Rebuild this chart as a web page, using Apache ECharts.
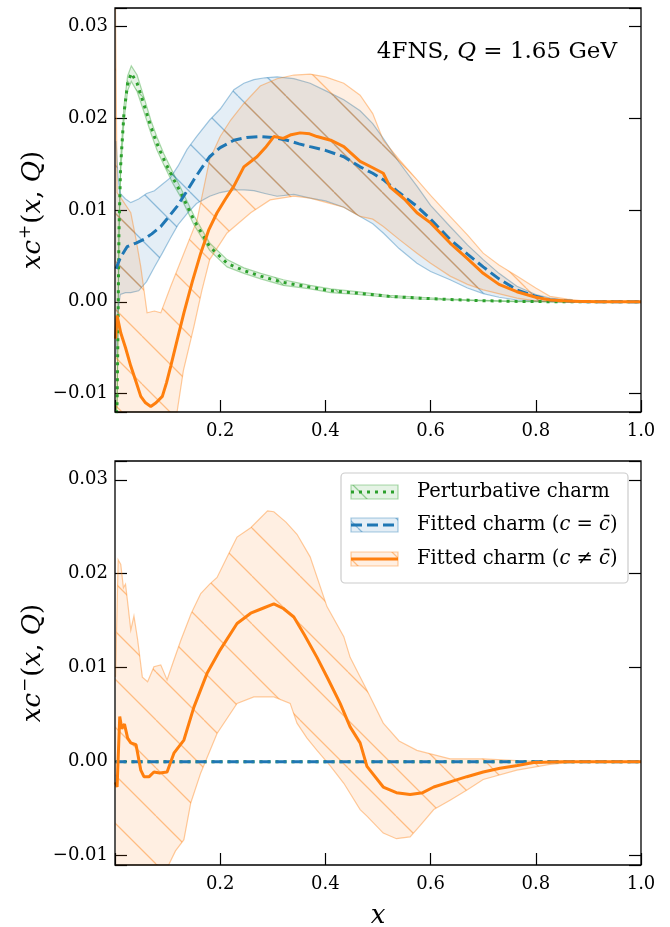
<!DOCTYPE html>
<html>
<head>
<meta charset="utf-8">
<script src="https://cdn.jsdelivr.net/npm/echarts@6/dist/echarts.min.js"></script>
<style>html,body{margin:0;padding:0;background:#fff;}#c{width:670px;height:927px;}</style>
</head>
<body>
<div id="c"></div>
<script>
// ---------------- DATA ----------------
// Tick labels
const xTicks = [0.2, 0.4, 0.6, 0.8, 1.0];
const yTicks = [-0.01, 0.00, 0.01, 0.02, 0.03];

// ===== Top panel: x c+(x,Q) =====
// Perturbative charm (green)
const pertX  = [0.002, 0.004, 0.0056, 0.0075, 0.0106, 0.017, 0.024, 0.031, 0.042, 0.055, 0.068, 0.08, 0.093, 0.11, 0.125, 0.15, 0.18, 0.213, 0.245, 0.277, 0.32, 0.371, 0.41, 0.46, 0.52, 0.58, 0.637, 0.7, 0.76, 0.85, 1.0];
const pertY  = [-0.013, -0.011, -0.0034, 0.0075, 0.0147, 0.0205, 0.0238, 0.0249, 0.0238, 0.0215, 0.0191, 0.0172, 0.0155, 0.0135, 0.0119, 0.0089, 0.006, 0.0042, 0.0034, 0.0028, 0.0021, 0.0016, 0.0012, 0.00095, 0.0006, 0.0004, 0.00025, 0.00012, 0.00005, 0.0, 0.0];
const pertHi = [-0.0125, -0.0105, -0.0028, 0.0082, 0.0155, 0.0213, 0.0246, 0.0257, 0.0247, 0.0223, 0.0198, 0.0179, 0.0161, 0.0141, 0.0124, 0.0094, 0.0064, 0.0046, 0.0037, 0.0031, 0.0024, 0.0018, 0.0014, 0.0011, 0.0007, 0.0005, 0.0003, 0.00015, 0.00007, 0.0, 0.0];
const pertLo = [-0.0135, -0.0115, -0.004, 0.0068, 0.0139, 0.0197, 0.0230, 0.0240, 0.0229, 0.0207, 0.0184, 0.0165, 0.0149, 0.0129, 0.0114, 0.0084, 0.0056, 0.0038, 0.0031, 0.0025, 0.0018, 0.0014, 0.0010, 0.0008, 0.0005, 0.0003, 0.0002, 0.0001, 0.00003, 0.0, 0.0];

// Fitted charm c = cbar (blue)
const symX = [0.002, 0.01, 0.023, 0.04, 0.055, 0.07, 0.087, 0.1, 0.118, 0.135, 0.15, 0.165, 0.18, 0.2, 0.226, 0.25, 0.276, 0.3, 0.327, 0.35, 0.371, 0.4, 0.435, 0.466, 0.49, 0.51, 0.54, 0.574, 0.6, 0.637, 0.67, 0.70, 0.73, 0.764, 0.8, 0.827, 0.87, 0.92, 1.0];
const symY = [0.0036, 0.0048, 0.006, 0.0064, 0.0068, 0.0074, 0.0082, 0.0091, 0.0104, 0.0119, 0.0133, 0.0146, 0.0158, 0.0168, 0.0176, 0.0179, 0.018, 0.0179, 0.0176, 0.0172, 0.0169, 0.0165, 0.0158, 0.0147, 0.0140, 0.0133, 0.0119, 0.0104, 0.0090, 0.0068, 0.0052, 0.0038, 0.0025, 0.0013, 0.0006, 0.0002, 0.00005, 0.0, 0.0];
const symBandX = [0.002, 0.006, 0.01, 0.02, 0.03, 0.045, 0.06, 0.075, 0.09, 0.105, 0.12, 0.137, 0.155, 0.18, 0.2, 0.226, 0.245, 0.264, 0.285, 0.308, 0.34, 0.371, 0.4, 0.435, 0.466, 0.49, 0.51, 0.54, 0.574, 0.6, 0.637, 0.67, 0.70, 0.73, 0.764, 0.8, 0.827, 0.87, 0.92, 1.0];
const symHi = [0.0175, 0.0135, 0.0118, 0.0112, 0.0108, 0.0112, 0.0118, 0.0121, 0.0128, 0.0135, 0.0148, 0.0166, 0.0180, 0.0198, 0.0210, 0.0231, 0.0238, 0.0242, 0.0244, 0.0245, 0.0243, 0.0238, 0.0230, 0.0220, 0.0208, 0.0194, 0.0178, 0.0152, 0.0126, 0.0105, 0.0082, 0.0062, 0.0046, 0.0031, 0.0017, 0.0008, 0.0004, 0.0001, 0.0, 0.0];
const symLo = [-0.006, -0.001, 0.0008, 0.001, 0.001, 0.0012, 0.0022, 0.0038, 0.0053, 0.0069, 0.0084, 0.0096, 0.0107, 0.0115, 0.0119, 0.0122, 0.0122, 0.0121, 0.0118, 0.0115, 0.0117, 0.0113, 0.0110, 0.0103, 0.0093, 0.0085, 0.0075, 0.0058, 0.0042, 0.0033, 0.0024, 0.0015, 0.0009, 0.0005, 0.0002, 0.0001, 0.00003, 0.0, 0.0, 0.0];

// Fitted charm c != cbar (orange), c+
const asyPlusX = [0.001, 0.004, 0.011, 0.02, 0.03, 0.04, 0.049, 0.058, 0.068, 0.078, 0.09, 0.098, 0.106, 0.118, 0.131, 0.147, 0.163, 0.178, 0.194, 0.21, 0.226, 0.245, 0.27, 0.286, 0.302, 0.32, 0.335, 0.352, 0.37, 0.384, 0.41, 0.435, 0.466, 0.49, 0.51, 0.523, 0.55, 0.574, 0.6, 0.637, 0.67, 0.70, 0.73, 0.764, 0.8, 0.827, 0.87, 0.92, 1.0];
const asyPlusY = [-0.004, -0.0015, -0.0034, -0.005, -0.007, -0.0087, -0.0103, -0.0110, -0.0114, -0.0110, -0.0103, -0.0088, -0.0070, -0.0042, -0.0012, 0.0022, 0.0053, 0.0078, 0.0097, 0.0112, 0.0126, 0.0147, 0.0158, 0.0168, 0.0180, 0.0178, 0.0182, 0.0184, 0.0183, 0.0180, 0.0176, 0.0169, 0.0153, 0.0146, 0.0140, 0.0125, 0.0112, 0.0097, 0.0086, 0.0064, 0.0047, 0.0031, 0.0019, 0.0011, 0.0005, 0.0002, 0.00005, 0.0, 0.0];
const asyPlusHiX = [0.001, 0.004, 0.015, 0.03, 0.04, 0.049, 0.061, 0.075, 0.087, 0.106, 0.131, 0.156, 0.18, 0.2, 0.22, 0.245, 0.276, 0.308, 0.34, 0.371, 0.4, 0.435, 0.466, 0.49, 0.51, 0.54, 0.574, 0.6, 0.637, 0.67, 0.70, 0.73, 0.764, 0.8, 0.827, 0.86, 0.89, 0.95, 1.0];
const asyPlusHi = [0.035, 0.0119, 0.011, 0.0097, 0.0068, 0.0038, -0.0012, -0.0010, -0.0012, 0.0017, 0.0053, 0.0089, 0.0155, 0.018, 0.0198, 0.0216, 0.0235, 0.0243, 0.0247, 0.0248, 0.0245, 0.0238, 0.0225, 0.0205, 0.0176, 0.0155, 0.0133, 0.0116, 0.0093, 0.0073, 0.0053, 0.0040, 0.0028, 0.0015, 0.0006, 0.0003, 0.0001, 0.0, 0.0];
const asyPlusLoX = [0.001, 0.05, 0.1, 0.118, 0.13, 0.15, 0.165, 0.18, 0.213, 0.258, 0.295, 0.34, 0.371, 0.403, 0.435, 0.466, 0.49, 0.51, 0.54, 0.574, 0.6, 0.637, 0.67, 0.70, 0.764, 0.8, 0.85, 1.0];
const asyPlusLo = [-0.03, -0.025, -0.018, -0.013, -0.0075, -0.0027, 0.0012, 0.0046, 0.0075, 0.0097, 0.0111, 0.0115, 0.0113, 0.0108, 0.0103, 0.0093, 0.0090, 0.0082, 0.0068, 0.0053, 0.0042, 0.0028, 0.0019, 0.0013, 0.0004, 0.0001, 0.0, 0.0];

// ===== Bottom panel: x c-(x,Q) =====
const zeroX = [0.001, 0.25, 0.5, 0.75, 1.0];
const pertMinusY = [0, 0, 0, 0, 0];
const symMinusY = [0, 0, 0, 0, 0];
const asyMinusX = [0.001, 0.004, 0.009, 0.013, 0.018, 0.024, 0.03, 0.04, 0.049, 0.055, 0.065, 0.074, 0.085, 0.099, 0.112, 0.131, 0.15, 0.175, 0.2, 0.232, 0.258, 0.28, 0.302, 0.32, 0.34, 0.36, 0.384, 0.405, 0.428, 0.447, 0.466, 0.479, 0.51, 0.535, 0.561, 0.585, 0.606, 0.64, 0.669, 0.7, 0.732, 0.765, 0.796, 0.85, 1.0];
const asyMinusY = [-0.0022, -0.0027, 0.0048, 0.0035, 0.004, 0.0025, 0.002, 0.0018, -0.0009, -0.0016, -0.0016, -0.0011, -0.0012, -0.0011, 0.0009, 0.0023, 0.0058, 0.0094, 0.0119, 0.0147, 0.0158, 0.0163, 0.0168, 0.0163, 0.0154, 0.0135, 0.0111, 0.0088, 0.0062, 0.0037, 0.002, -0.0005, -0.0027, -0.0033, -0.0035, -0.0033, -0.0027, -0.0021, -0.0016, -0.0011, -0.0007, -0.0004, -0.0001, 0.0, 0.0];
const asyMinusHiX = [0.001, 0.006, 0.011, 0.016, 0.02, 0.025, 0.03, 0.036, 0.043, 0.052, 0.062, 0.074, 0.087, 0.099, 0.11, 0.125, 0.145, 0.163, 0.18, 0.194, 0.215, 0.232, 0.258, 0.29, 0.302, 0.325, 0.346, 0.371, 0.403, 0.435, 0.447, 0.479, 0.51, 0.54, 0.574, 0.637, 0.70, 0.764, 0.82, 1.0];
const asyMinusHi = [0.009, 0.0215, 0.021, 0.0185, 0.0189, 0.0165, 0.014, 0.0155, 0.013, 0.009, 0.0085, 0.0101, 0.0103, 0.0087, 0.0105, 0.0129, 0.0158, 0.0179, 0.0189, 0.0196, 0.022, 0.0239, 0.0249, 0.0267, 0.0266, 0.0255, 0.0242, 0.0218, 0.0165, 0.0133, 0.0111, 0.0076, 0.0041, 0.0022, 0.0012, 0.0003, 0.0003, 0.0001, 0.0, 0.0];
const asyMinusLoX = [0.001, 0.09, 0.102, 0.115, 0.131, 0.144, 0.163, 0.194, 0.232, 0.264, 0.302, 0.333, 0.346, 0.365, 0.384, 0.41, 0.435, 0.466, 0.479, 0.51, 0.535, 0.561, 0.58, 0.606, 0.637, 0.67, 0.70, 0.764, 0.827, 0.88, 1.0];
const asyMinusLo = [-0.015, -0.013, -0.011, -0.0095, -0.0083, -0.0044, -0.0012, 0.003, 0.0062, 0.0069, 0.0069, 0.0062, 0.0041, 0.0025, 0.0012, -0.0005, -0.0023, -0.0051, -0.0058, -0.0076, -0.0082, -0.008, -0.0068, -0.0051, -0.0041, -0.003, -0.0019, -0.0009, -0.0003, 0.0, 0.0];

// Labels
const legendLabels = ['Perturbative charm', 'Fitted charm (c = c̄)', 'Fitted charm (c ≠ c̄)'];

// ---------------- STYLE / LAYOUT ----------------
const FONT = 'DejaVu Serif';
const GREEN = '44,160,44', BLUE = '31,119,180', ORANGE = '255,127,14';
const G = [{left:115, top:8, width:526, height:404}, {left:115, top:461, width:526, height:404}];
const YR = [[-0.012, 0.032], [-0.011, 0.032]];

function hatch(rgb) {
  const s = 48, c = document.createElement('canvas');
  c.width = s; c.height = s;
  const ctx = c.getContext('2d');
  ctx.strokeStyle = 'rgba(' + rgb + ',0.45)';
  ctx.lineWidth = 1.3;
  ctx.beginPath();
  for (const o of [-s, 0, s]) { ctx.moveTo(o, 0); ctx.lineTo(o + s, s); }
  ctx.stroke();
  return c;
}
const HATCH = {}; [GREEN, BLUE, ORANGE].forEach(k => HATCH[k] = hatch(k));
const zip = (xs, ys) => xs.map((x, i) => [x, ys[i]]);

function band(gi, hx, hy, lx, ly, rgb, phase, z) {
  const nUp = hx.length;
  const data = zip(hx, hy).concat(zip(lx, ly).reverse());
  return {
    type: 'custom', xAxisIndex: gi, yAxisIndex: gi * 2, coordinateSystem: 'cartesian2d',
    data, silent: true, animation: false, z, encode: {x: 0, y: 1},
    renderItem(params, api) {
      if (params.dataIndexInside !== 0) return null;
      const n = params.dataInsideLength, pts = [];
      for (let j = 0; j < n; j++) pts.push(api.coord([api.value(0, j), api.value(1, j)]));
      const cs = params.coordSys;
      const poly = echarts.graphic.clipPointsByRect(pts, {x: cs.x, y: cs.y, width: cs.width, height: cs.height});
      const up = poly.slice(0, nUp), lo = poly.slice(nUp);
      const edge = {stroke: 'rgba(' + rgb + ',0.4)', fill: null, lineWidth: 1.2};
      return {type: 'group', children: [
        {type: 'polygon', shape: {points: poly}, style: {fill: 'rgba(' + rgb + ',0.12)'}},
        {type: 'polygon', shape: {points: poly}, style: {fill: {image: HATCH[rgb], repeat: 'repeat', x: phase, y: 0}}},
        {type: 'polyline', shape: {points: up}, style: edge},
        {type: 'polyline', shape: {points: lo}, style: edge}
      ]};
    }
  };
}
function line(gi, xs, ys, rgb, dash, z) {
  return {type: 'line', xAxisIndex: gi, yAxisIndex: gi * 2, data: zip(xs, ys), showSymbol: false,
    symbol: 'none', silent: true, animation: false, z, clip: true,
    lineStyle: {color: 'rgb(' + rgb + ')', width: 3, type: dash, cap: 'butt'}};
}

const yFmt = v => { const r = Math.round(v * 100); if (Math.abs(v * 100 - r) > 1e-6) return ''; if (!yTicks.some(t => Math.abs(t - r / 100) < 1e-9)) return ''; return (r < 0 ? '−' : '') + (Math.abs(r) / 100).toFixed(2); };
const xFmt = v => xTicks.some(t => Math.abs(t - v) < 1e-9) ? v.toFixed(1) : '';
const tick = {inside: true, length: 12, lineStyle: {color: '#000', width: 1.2}};
const lab = {fontFamily: FONT, fontSize: 18, color: '#000'};

const xAxis = [0, 1].map(gi => ({gridIndex: gi, type: 'value', min: 0, max: 1, interval: 0.2, position: 'bottom',
  axisLine: {show: false, onZero: false}, axisTick: tick, splitLine: {show: false},
  axisLabel: Object.assign({margin: 10, formatter: xFmt}, lab)}));
const yAxis = [];
[0, 1].forEach(gi => {
  yAxis.push({gridIndex: gi, type: 'value', min: YR[gi][0], max: YR[gi][1], splitNumber: 4, position: 'left',
    axisLine: {show: false, onZero: false}, axisTick: tick, splitLine: {show: false},
    axisLabel: Object.assign({margin: 7, formatter: yFmt}, lab)});
  yAxis.push({gridIndex: gi, type: 'value', min: YR[gi][0], max: YR[gi][1], splitNumber: 4, position: 'right',
    axisLine: {show: false, onZero: false}, axisTick: tick, splitLine: {show: false}, axisLabel: {show: false}});
});

const series = [
  band(0, pertX, pertHi, pertX, pertLo, GREEN, 46, 1),
  band(0, symBandX, symHi, symBandX, symLo, BLUE, 46, 2),
  band(0, asyPlusHiX, asyPlusHi, asyPlusLoX, asyPlusLo, ORANGE, 46, 3),
  line(0, pertX, pertY, GREEN, [3, 5], 4),
  line(0, symX, symY, BLUE, [11, 5], 5),
  line(0, asyPlusX, asyPlusY, ORANGE, 'solid', 6),
  band(1, asyMinusHiX, asyMinusHi, asyMinusLoX, asyMinusLo, ORANGE, 12, 3),
  line(1, zeroX, pertMinusY, GREEN, [3, 5], 4),
  line(1, zeroX, symMinusY, BLUE, [11, 5], 5),
  line(1, asyMinusX, asyMinusY, ORANGE, 'solid', 6)
];

// ---------------- GRAPHICS: frames, legend, labels ----------------
const graphic = [];
G.forEach(g => graphic.push({type: 'rect', z: 100, silent: true,
  shape: {x: g.left, y: g.top, width: g.width, height: g.height},
  style: {fill: null, stroke: '#000', lineWidth: 1.3}}));

const rich = {
  u: {fontFamily: FONT, fontSize: 26, color: '#000'},
  i: {fontFamily: FONT, fontSize: 26, fontStyle: 'italic', color: '#000'},
  s: {fontFamily: FONT, fontSize: 17, color: '#000', verticalAlign: 'top', padding: [0, 1, 14, 1]},
  lu: {fontFamily: FONT, fontSize: 19.5, color: '#000'},
  li: {fontFamily: FONT, fontSize: 19.5, fontStyle: 'italic', color: '#000'},
  au: {fontFamily: FONT, fontSize: 23, color: '#000'},
  ai: {fontFamily: FONT, fontSize: 23, fontStyle: 'italic', color: '#000'}
};
graphic.push({type: 'text', z: 100, x: 33, y: 210, rotation: Math.PI / 2,
  style: {text: '{i|xc}{s|+}{u|(}{i|x}{u|, }{i|Q}{u|)}', rich, align: 'center', verticalAlign: 'middle'}});
graphic.push({type: 'text', z: 100, x: 33, y: 663, rotation: Math.PI / 2,
  style: {text: '{i|xc}{s|−}{u|(}{i|x}{u|, }{i|Q}{u|)}', rich, align: 'center', verticalAlign: 'middle'}});
graphic.push({type: 'text', z: 100, x: 378, y: 916,
  style: {text: '{i|x}', rich, align: 'center', verticalAlign: 'middle'}});
graphic.push({type: 'text', z: 100, x: 617, y: 52,
  style: {text: '{au|4FNS, }{ai|Q}{au| = 1.65 GeV}', rich, align: 'right', verticalAlign: 'middle'}});

// legend
graphic.push({type: 'rect', z: 90, shape: {x: 341, y: 473, width: 287, height: 110, r: 4},
  style: {fill: 'rgba(255,255,255,0.8)', stroke: '#cccccc', lineWidth: 1.2}});
const legRows = [
  {rgb: GREEN, dash: [3, 5], text: '{lu|Perturbative charm}'},
  {rgb: BLUE, dash: [11, 5], text: '{lu|Fitted charm (}{li|c}{lu| = }{li|c̄}{lu|)}'},
  {rgb: ORANGE, dash: null, text: '{lu|Fitted charm (}{li|c}{lu| ≠ }{li|c̄}{lu|)}'}
];
const legY = [492, 525, 559];
legRows.forEach((r, i) => {
  const cy = legY[i];
  graphic.push({type: 'rect', z: 91, shape: {x: 351, y: cy - 7, width: 47, height: 14},
    style: {fill: 'rgba(' + r.rgb + ',0.12)', stroke: 'rgba(' + r.rgb + ',0.4)', lineWidth: 1.2}});
  graphic.push({type: 'rect', z: 91, shape: {x: 351, y: cy - 7, width: 47, height: 14},
    style: {fill: {image: HATCH[r.rgb], repeat: 'repeat', x: 12 + i * 10, y: 0}}});
  graphic.push({type: 'line', z: 92, shape: {x1: 351, y1: cy, x2: 398, y2: cy},
    style: {stroke: 'rgb(' + r.rgb + ')', lineWidth: 3, lineDash: r.dash, lineCap: 'butt'}});
  graphic.push({type: 'text', z: 92, x: 417, y: cy,
    style: {text: r.text, rich, align: 'left', verticalAlign: 'middle'}});
});

const chart = echarts.init(document.getElementById('c'), null, {renderer: 'canvas'});
chart.setOption({
  animation: false,
  backgroundColor: '#fff',
  grid: G.map(g => Object.assign({containLabel: false}, g)),
  xAxis, yAxis, series, graphic
});
</script>
</body>
</html>
